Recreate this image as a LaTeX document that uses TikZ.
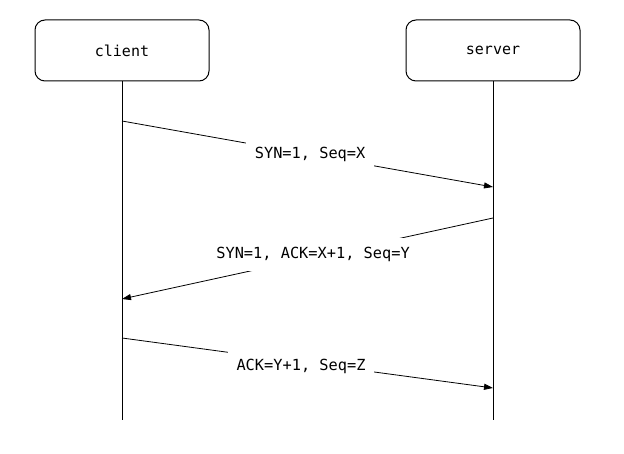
\documentclass[tikz,border=0pt]{standalone}
\usepackage{fontspec}
\setmonofont{DejaVu Sans Mono}
\usetikzlibrary{arrows.meta}
\begin{document}
\begin{tikzpicture}[x=1pt,y=-1pt,
  actor/.style={draw, line width=1pt, rounded corners=10pt, minimum width=174pt, minimum height=61pt, font=\fontsize{15}{16}\ttfamily},
  life/.style={line width=1pt},
  msg/.style={line width=0.8pt, -{Triangle[length=9pt,width=6pt]}},
  lbl/.style={fill=white, inner xsep=9pt, inner ysep=9pt, text height=11pt, text depth=3.5pt, font=\fontsize{15.3}{16}\ttfamily}]
\useasboundingbox (0,0) rectangle (624,454);
\node[actor] (client) at (122,50.5) {client};
\node[actor] (server) at (493,50.5) {server};
\coordinate (cend) at (122,420);
\coordinate (send) at (493,420);
\draw[life] (client.south) -- (cend);
\draw[life] (server.south) -- (send);
\coordinate (c1) at (122,121);
\coordinate (s1) at (493,187);
\coordinate (s2) at (493,218);
\coordinate (c2) at (122,299);
\coordinate (c3) at (122,338);
\coordinate (s3) at (493,388);
\draw[msg] (c1) -- node[lbl, pos=0.507] {SYN=1, Seq=X} (s1);
\draw[msg] (s2) -- node[lbl, pos=0.485, yshift=2.8pt] {SYN=1, ACK=X+1, Seq=Y} (c2);
\draw[msg] (c3) -- node[lbl, pos=0.4825, yshift=-4.8pt] {ACK=Y+1, Seq=Z} (s3);
\end{tikzpicture}
\end{document}
